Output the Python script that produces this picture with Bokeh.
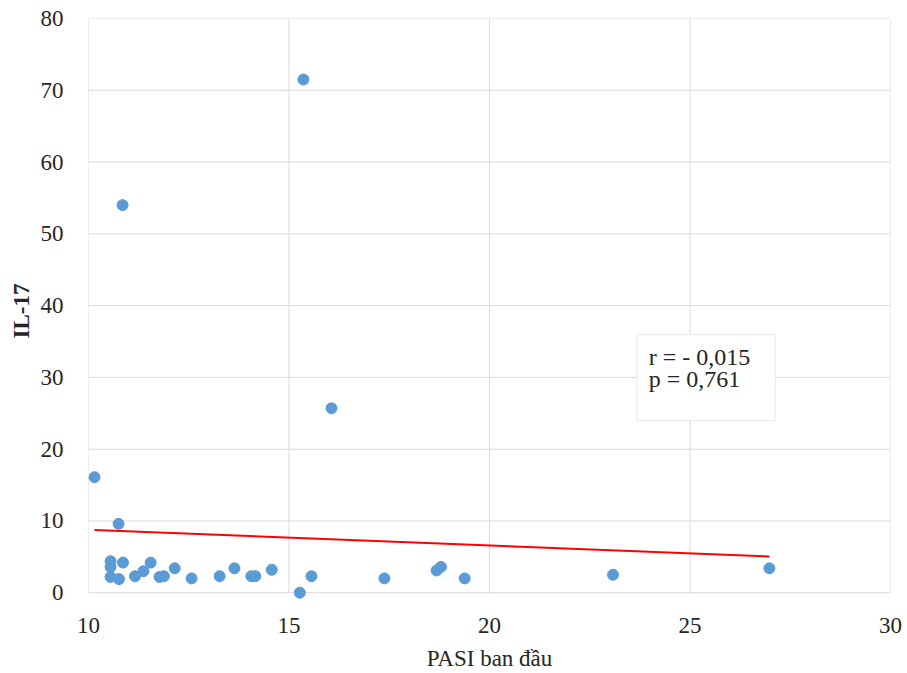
from bokeh.plotting import figure
from bokeh.models import Range1d, FixedTicker, BoxAnnotation, Label
from bokeh.embed import file_html
from bokeh.resources import INLINE

# PASI at baseline (x) and IL-17 (y)
pasi = [10.15, 10.85, 15.36, 16.06, 10.75, 10.55, 10.55, 10.55, 10.76, 10.86,
        11.16, 11.37, 11.55, 11.77, 11.88, 12.15, 12.57, 13.27, 13.64, 14.06,
        14.16, 14.57, 15.27, 15.56, 17.38, 18.68, 18.79, 19.38, 23.08, 26.98]
il17 = [16.1, 54.0, 71.5, 25.7, 9.6, 4.4, 3.6, 2.2, 1.9, 4.2,
        2.3, 3.0, 4.2, 2.2, 2.3, 3.4, 2.0, 2.3, 3.4, 2.3,
        2.3, 3.2, 0.0, 2.3, 2.0, 3.1, 3.6, 2.0, 2.5, 3.4]

trend_x = [10.15, 26.98]
trend_y = [8.75, 5.04]

x_ticks = [10, 15, 20, 25, 30]
y_ticks = [0, 10, 20, 30, 40, 50, 60, 70, 80]
stats_lines = ["r = - 0,015", "p = 0,761"]

FONT = "Liberation Serif"
GRID = "#d9d9d9"
TXT = "#262626"

p = figure(width=907, height=673, output_backend="svg", toolbar_location=None,
           x_range=Range1d(10, 30), y_range=Range1d(-1.5, 80),
           min_border_left=88, min_border_right=17, min_border_top=18,
           min_border_bottom=68)
p.outline_line_color = None
p.background_fill_color = "white"

p.xaxis.axis_line_color = None
p.yaxis.axis_line_color = None
p.xaxis.major_tick_line_color = None
p.yaxis.major_tick_line_color = None
p.xaxis.minor_tick_line_color = None
p.yaxis.minor_tick_line_color = None
p.xaxis.major_label_text_font = FONT
p.yaxis.major_label_text_font = FONT
p.xaxis.major_label_text_font_size = "23px"
p.yaxis.major_label_text_font_size = "23px"
p.xaxis.major_label_text_color = TXT
p.yaxis.major_label_text_color = TXT
p.xaxis.axis_label_text_font = FONT
p.yaxis.axis_label_text_font = FONT
p.xaxis.axis_label_text_color = TXT
p.yaxis.axis_label_text_color = TXT

p.xaxis.ticker = FixedTicker(ticks=x_ticks)
p.yaxis.ticker = FixedTicker(ticks=y_ticks)
p.xaxis.major_label_standoff = 8
p.yaxis.major_label_standoff = 19
p.xaxis.axis_label = "PASI ban đầu"
p.xaxis.axis_label_text_font_size = "23px"
p.xaxis.axis_label_text_font_style = "normal"
p.xaxis.axis_label_standoff = 10
p.yaxis.axis_label = "IL-17"
p.yaxis.axis_label_text_font_size = "23px"
p.yaxis.axis_label_text_font_style = "bold"
p.yaxis.axis_label_standoff = 4

# gridlines drawn from the tick values so they stop at y = 0
p.xgrid.grid_line_color = None
p.ygrid.grid_line_color = None
p.segment(x0=x_ticks, y0=[y_ticks[0]] * len(x_ticks),
          x1=x_ticks, y1=[y_ticks[-1]] * len(x_ticks),
          line_color=GRID, line_width=1)
p.segment(x0=[x_ticks[0]] * len(y_ticks), y0=y_ticks,
          x1=[x_ticks[-1]] * len(y_ticks), y1=y_ticks,
          line_color=GRID, line_width=1)

p.line(trend_x, trend_y, line_color="#ff0000", line_width=2)
p.scatter(pasi, il17, size=11, fill_color="#5b9bd5", line_color="#5b9bd5")

box = BoxAnnotation(left=23.67, right=27.13, bottom=24.0, top=35.97,
                    fill_color="white", fill_alpha=1.0,
                    line_color="#bfbfbf", line_width=1, level="overlay")
p.add_layout(box)
for i, t in enumerate(stats_lines):
    p.add_layout(Label(x=23.97, y=31.0 - i * 3.05, text=t, text_font=FONT,
                       text_font_size="24px", text_color=TXT,
                       level="overlay"))

open("out.html", "w").write(file_html(p, INLINE))
